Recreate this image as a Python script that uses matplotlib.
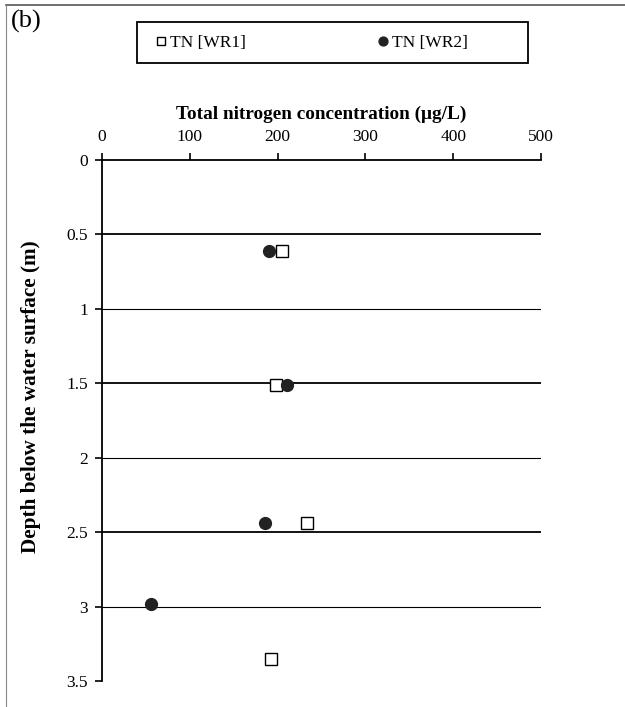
import matplotlib.pyplot as plt
from matplotlib.lines import Line2D
from matplotlib.patches import Rectangle

# data
wr1_conc = [205, 198, 233, 192]
wr1_depth = [0.61, 1.51, 2.44, 3.35]
wr2_conc = [190, 211, 186, 56]
wr2_depth = [0.61, 1.51, 2.44, 2.98]

xticks = [0, 100, 200, 300, 400, 500]
yticks = [0, 0.5, 1, 1.5, 2, 2.5, 3, 3.5]
yticklabels = ['0', '0.5', '1', '1.5', '2', '2.5', '3', '3.5']

plt.rcParams['font.family'] = ['Liberation Serif', 'DejaVu Serif']

W, H = 625, 707
fig = plt.figure(figsize=(6.25, 7.07), dpi=100)
ax = fig.add_axes([102/W, 1-681/H, 439/W, 521/H])

# horizontal grid lines, the half-metre ones a bit heavier
for d in [0.5, 1, 1.5, 2, 2.5, 3]:
    lw = 1.3 if d in (0.5, 1.5, 2.5) else 0.8
    ax.axhline(d, color='black', lw=lw, zorder=1)

ax.plot(wr1_conc, wr1_depth, 's', ms=8.5, mfc='white', mec='black', mew=1.0,
        label='TN [WR1]', zorder=3)
ax.plot(wr2_conc, wr2_depth, 'o', ms=8.5, mfc='#222222', mec='#222222',
        label='TN [WR2]', zorder=4)

ax.set_xlim(0, 500)
ax.set_ylim(3.5, 0)
ax.xaxis.tick_top()
ax.xaxis.set_label_position('top')
ax.set_xticks(xticks)
ax.set_yticks(yticks)
ax.set_yticklabels(yticklabels)
ax.tick_params(axis='both', direction='out', length=5, width=1.2,
               labelsize=12.5, pad=5)
ax.tick_params(axis='x', pad=6)
ax.spines['right'].set_visible(False)
ax.spines['bottom'].set_visible(False)
ax.spines['top'].set_linewidth(1.3)
ax.spines['left'].set_linewidth(1.3)

ax.set_xlabel('Total nitrogen concentration (\u03bcg/L)', fontsize=13.9,
              fontweight='bold', labelpad=7)
ax.set_ylabel('Depth below the water surface (m)', fontsize=15.3,
              fontweight='bold')
ax.yaxis.set_label_coords(-0.14, 0.545)

# legend box drawn separately so the entries can sit where they do
fig.add_artist(Rectangle((137/W, 1-63/H), 391/W, 41/H, transform=fig.transFigure,
                         fill=False, edgecolor='black', lw=1.3))
fig.legend(loc='center left', ncol=2, bbox_to_anchor=(156/W, 1-43/H),
           fontsize=12.5, markerscale=0.75, handlelength=0.6,
           handletextpad=0.2, columnspacing=7.6, frameon=False,
           borderaxespad=0, borderpad=0)

fig.text(11/W, 1-21/H, '(b)', fontsize=19, va='center', ha='left')

# outer frame of the panel (top and left edges)
fig.add_artist(Line2D([6/W, 1], [1-5/H, 1-5/H], color='#555555', lw=1.2))
fig.add_artist(Line2D([6/W, 6/W], [0, 1-5/H], color='#888888', lw=0.8))

fig.savefig('out.png', dpi=100)
